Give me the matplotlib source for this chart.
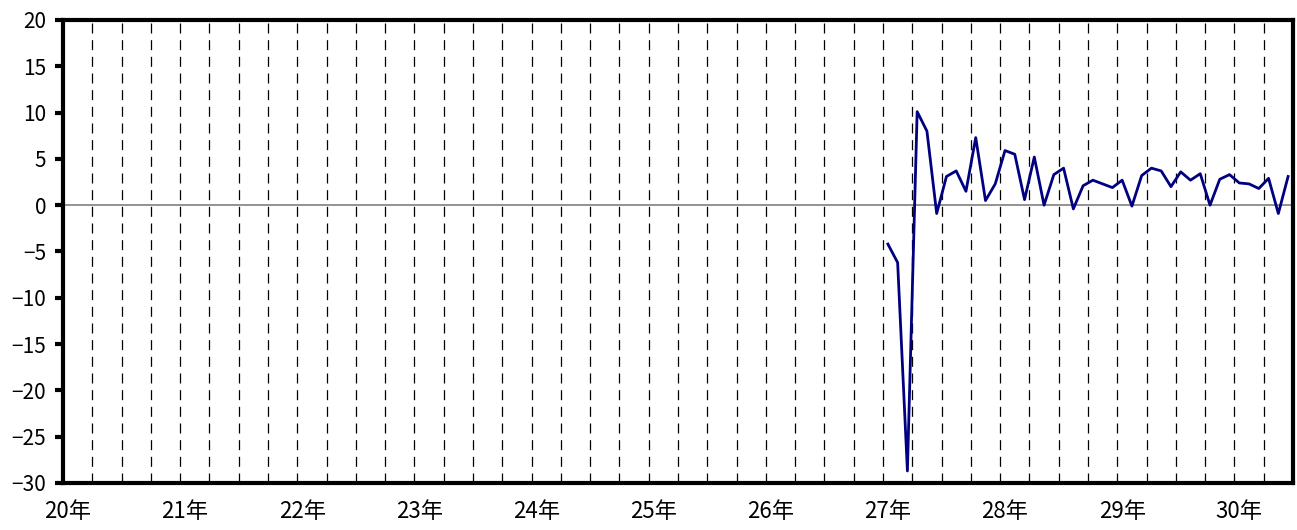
import matplotlib
matplotlib.use("Agg")
import matplotlib.pyplot as plt
import numpy as np

plt.rcParams['font.family'] = ['Noto Sans CJK JP', 'DejaVu Sans']
plt.rcParams['lines.scale_dashes'] = False

# Monthly series starting at 27年1月 (month index 84 from 20年1月)
start_month = 84
values = [-4.2, -6.2, -28.7, 10.1, 8.0, -0.9, 3.1, 3.7, 1.5, 7.3, 0.5, 2.3,
          5.9, 5.5, 0.6, 5.2, 0.0, 3.3, 4.0, -0.4, 2.1, 2.7, 2.3, 1.9,
          2.7, -0.1, 3.2, 4.0, 3.7, 2.0, 3.6, 2.7, 3.4, 0.0, 2.8, 3.3,
          2.4, 2.3, 1.8, 2.9, -0.9, 3.1]
year_labels = ['20年', '21年', '22年', '23年', '24年', '25年', '26年',
               '27年', '28年', '29年', '30年']
yticks = [20, 15, 10, 5, 0, -5, -10, -15, -20, -25, -30]
total_months = 126

fig = plt.figure(figsize=(12.97, 5.30), dpi=100)
ax = fig.add_axes([0.0486, 0.0887, 0.9483, 0.8736])

# quarterly dashed separators
for m in range(3, total_months, 3):
    ax.axvline(m, color='black', lw=0.9, linestyle=(0, (7.2, 4.8)), zorder=1)

ax.axhline(0, color='#808080', lw=1.2, zorder=2)

x = np.arange(start_month, start_month + len(values)) + 0.5
ax.plot(x, values, color='#000080', lw=2.0, zorder=3)

ax.set_xlim(0, total_months)
ax.set_ylim(-30, 20)
ax.set_yticks(yticks)
ax.set_yticklabels([str(v).replace('-', '\u2212') for v in yticks], fontsize=15)
ax.set_xticks([12 * i + 0.5 for i in range(len(year_labels))])
ax.set_xticklabels(year_labels, fontsize=16)
ax.tick_params(axis='x', length=0, pad=12)
ax.tick_params(axis='y', length=6, width=3, direction='out', pad=6)

for s in ax.spines.values():
    s.set_linewidth(3)
    s.set_color('black')

fig.savefig('out.png', dpi=100)
